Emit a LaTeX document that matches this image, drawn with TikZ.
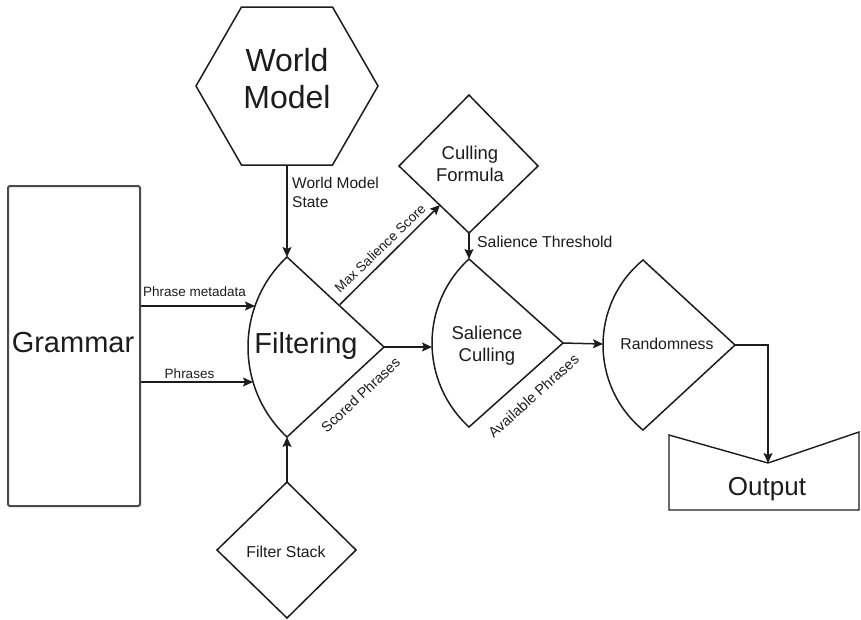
\documentclass[tikz,border=0pt]{standalone}
\usepackage{fontspec}
\setmainfont{Liberation Sans}
\usetikzlibrary{arrows.meta}
\definecolor{ink}{HTML}{1C1C1C}
\definecolor{boxgray}{HTML}{4A4A4A}
\begin{document}
\begin{tikzpicture}[x=1pt,y=-1pt,
  line/.style={draw=ink, line width=1.5pt, line join=miter},
  flow/.style={line, -{Stealth[length=10pt,width=9pt,inset=2pt]}},
  txt/.style={text=ink, inner sep=0pt, align=center},
  huge/.style={txt, font=\fontsize{32}{38}\selectfont},
  big/.style={txt, font=\fontsize{29}{34}\selectfont},
  mid/.style={txt, font=\fontsize{18.5}{23}\selectfont},
  small/.style={txt, font=\fontsize{15.8}{19}\selectfont},
  lbl/.style={txt, font=\fontsize{15.5}{18}\selectfont, align=left},
  tiny/.style={txt, font=\fontsize{13.5}{16}\selectfont},
]
\useasboundingbox (0,0) rectangle (861,619);

% ---------- Grammar ----------
\node[draw=boxgray, line width=2pt, rounded corners=2pt, minimum width=132pt,
      minimum height=320pt, inner sep=0pt] (grammar) at (74,346) {};
\node[big, anchor=base] (grammartxt) at (73,352) {Grammar};

% ---------- World Model ----------
\draw[line] (196,86) coordinate (wm-w) -- (241.5,7) -- (332.5,7) -- (378,86)
  -- (332.5,165) coordinate (wm-se) -- (241.5,165) coordinate (wm-sw) -- cycle;
\coordinate (wm-s) at (287,165);
\node[huge] (wmtxt) at (287,79) {World\\[-1pt]Model};

% ---------- Filtering ----------
\coordinate (filt-n) at (287,257);
\coordinate (filt-s) at (287,437);
\coordinate (filt-e) at (384,347);
\draw[line] (filt-n) .. controls (235,305.7) and (235,388.3) .. (filt-s)
  -- (filt-e) -- cycle;
\node[big, anchor=base] (filttxt) at (306,353) {Filtering};
\coordinate (filt-in1) at (255,306);
\coordinate (filt-in2) at (253,382);
\coordinate (filt-out) at (340,304.5);

% ---------- Culling Formula ----------
\coordinate (cf-n) at (469,95);
\coordinate (cf-e) at (538,166);
\coordinate (cf-s) at (469,233);
\coordinate (cf-w) at (399,166);
\draw[line] (cf-n) -- (cf-e) -- (cf-s) -- (cf-w) -- cycle;
\node[mid] (cftxt) at (470,164) {Culling\\[-1pt]Formula};
\coordinate (cf-in) at (440,205);

% ---------- Salience Culling ----------
\coordinate (sc-n) at (469,259);
\coordinate (sc-s) at (469,427);
\coordinate (sc-e) at (563,343);
\draw[line] (sc-n) .. controls (419.7,304.2) and (419.7,381.8) .. (sc-s)
  -- (sc-e) -- cycle;
\node[mid] (sctxt) at (487,346) {Salience\\[-1pt]Culling};
\coordinate (sc-w) at (432,347);

% ---------- Randomness ----------
\coordinate (rd-n) at (643,260);
\coordinate (rd-s) at (643,430);
\coordinate (rd-e) at (735,345);
\draw[line] (rd-n) .. controls (589.7,304.1) and (589.7,385.9) .. (rd-s)
  -- (rd-e) -- cycle;
\node[small, anchor=base] (rdtxt) at (667,349) {Randomness};
\coordinate (rd-w) at (603,344);

% ---------- Output ----------
\coordinate (out-notch) at (768,463);
\draw[line, line width=1.4pt] (669,435) -- (out-notch) -- (859,432) -- (859,510)
  -- (669,510) -- cycle;
\node[txt, font=\fontsize{26}{30}\selectfont, anchor=base] (outtxt) at (767,495) {Output};

% ---------- Filter Stack ----------
\coordinate (fs-n) at (287,482);
\draw[line] (fs-n) -- (356,550) -- (287,618) -- (217,550) -- cycle;
\node[small, anchor=base] (fstxt) at (286,557) {Filter Stack};

% ---------- Connectors ----------
\draw[flow] (wm-s) -- (filt-n);
\draw[flow] (grammar.east |- filt-in1) -- (filt-in1);
\draw[flow] (grammar.east |- filt-in2) -- (filt-in2);
\draw[flow] (fs-n) -- (filt-s);
\draw[flow] (filt-out) -- (cf-in);
\draw[flow] (cf-s) -- (sc-n);
\draw[flow] (filt-e) -- (sc-w);
\draw[flow] (sc-e) -- (rd-w);
\draw[flow] (rd-e) -| (out-notch);

% ---------- Connector labels ----------
\node[lbl, anchor=base west] (wmslbl) at (292,207) {World Model\\[1pt]State};
\node[small, anchor=base west] (stlbl) at (477,247) {Salience Threshold};
\node[tiny, anchor=base west] (pmlbl) at (143,296) {Phrase metadata};
\node[tiny, anchor=base] (phlbl) at (189.5,378) {Phrases};
\node[tiny, rotate=44] (mslbl) at (380,248.5) {Max Salience Score};
\node[tiny, font=\fontsize{14.3}{17}\selectfont, rotate=43] (splbl) at (360.5,395) {Scored Phrases};
\node[tiny, font=\fontsize{14.5}{17}\selectfont, rotate=42] (aplbl) at (533.5,396) {Available Phrases};
\end{tikzpicture}
\end{document}
